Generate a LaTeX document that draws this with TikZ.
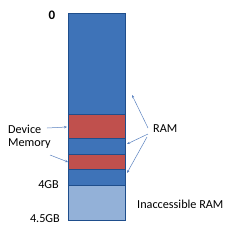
\documentclass[tikz,border=0pt]{standalone}
\usepackage{fontspec}
\setmainfont{Carlito}
\usetikzlibrary{arrows.meta}
\definecolor{ramblue}{HTML}{3E73B8}
\definecolor{devred}{HTML}{C0504D}
\definecolor{lightram}{HTML}{93B1D8}
\definecolor{edge}{HTML}{1F4E8C}
\definecolor{arrowblue}{HTML}{5B82C0}
\tikzset{
  seg/.style={draw=edge, line width=0.9pt, minimum width=57pt, inner sep=0pt, anchor=north west},
  lbl/.style={font=\fontsize{12.2}{14}\selectfont, text=black, inner sep=0pt},
  ptr/.style={draw=arrowblue, line width=0.5pt, -{Stealth[length=3pt,width=2.5pt]}}
}
\begin{document}
\begin{tikzpicture}[x=1pt,y=-1pt]
\useasboundingbox (0,0) rectangle (229,231);
\node[seg, fill=ramblue, minimum height=101.3pt] (r1) at (68,12.7) {};
\node[seg, fill=devred, minimum height=24pt] (d1) at (68,114) {};
\node[seg, fill=ramblue, minimum height=16pt] (r2) at (68,138) {};
\node[seg, fill=devred, minimum height=15pt] (d2) at (68,154) {};
\node[seg, fill=ramblue, minimum height=16pt] (r3) at (68,169) {};
\node[seg, fill=lightram, minimum height=35pt] (inacc) at (68,185) {};
\node[lbl, font=\fontsize{13}{15}\selectfont\bfseries] (zero) at (52,15) {0};
\node[lbl, anchor=west] (dev) at (8,129) {Device};
\node[lbl, anchor=west] (mem) at (8,144) {Memory};
\node[lbl, anchor=west] (ram) at (153,129) {RAM};
\node[lbl, anchor=east] (g4) at (59,185) {4GB};
\node[lbl, anchor=east] (g45) at (60,219) {4.5GB};
\node[lbl, anchor=west] (inl) at (137,204) {Inaccessible RAM};
\coordinate (t1) at (67,127);
\coordinate (t2) at (68,162);
\coordinate (t3) at (132,95);
\coordinate (t4) at (127,144);
\coordinate (t5) at (127,173);
\draw[ptr] (47,128) -- (t1);
\draw[ptr] (50,155) -- (t2);
\draw[ptr] (148,128) -- (t3);
\draw[ptr] (148,134) -- (t4);
\draw[ptr] (147,137) -- (t5);
\end{tikzpicture}
\end{document}
